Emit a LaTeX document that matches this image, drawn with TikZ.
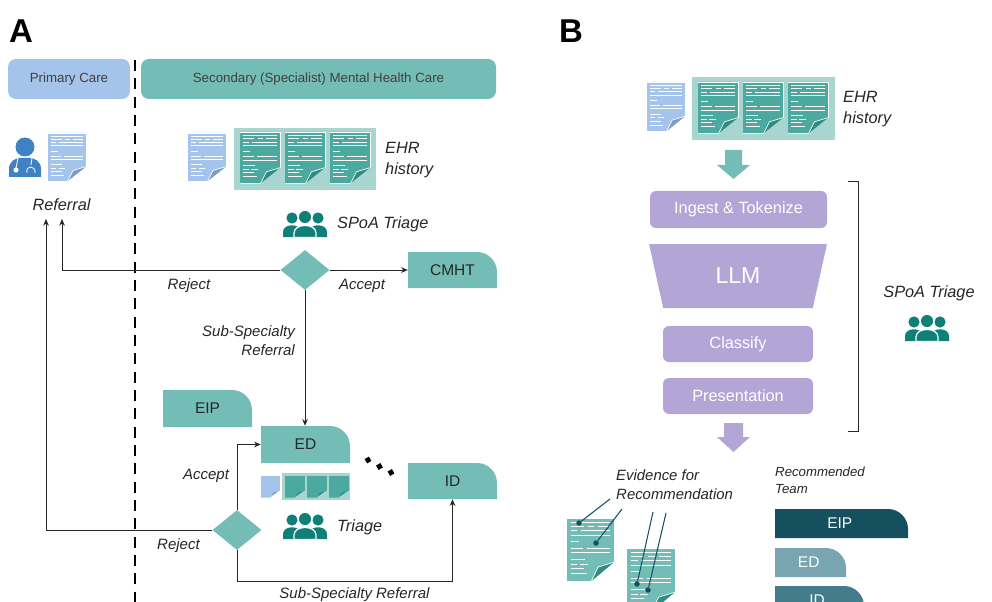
\documentclass[tikz,border=0pt]{standalone}
\usepackage{fontspec}
\setmainfont{Liberation Sans}
\usepackage{xcolor}
\usetikzlibrary{arrows.meta, positioning, shapes.geometric}
\definecolor{tealmain}{HTML}{74BCB6}
\definecolor{tealpale}{HTML}{A9D5D1}
\definecolor{tealdoc}{HTML}{4CA9A0}
\definecolor{tealfold}{HTML}{2F8C80}
\definecolor{tealicon}{HTML}{0E8078}
\definecolor{bluedoc}{HTML}{A4C4EC}
\definecolor{bluefold}{HTML}{7F9CBC}
\definecolor{blueicon}{HTML}{3E82C4}
\definecolor{purplebox}{HTML}{B3A5D6}
\definecolor{teamdark}{HTML}{15505F}
\definecolor{teammid}{HTML}{78A5B0}
\definecolor{teamsea}{HTML}{437C8A}
\def\px{0.3mm}
\newcommand{\pxfont}[1]{\pgfmathsetmacro\fsz{#1*0.8535}\pgfmathsetmacro\fbl{#1*1.02}\fontsize{\fsz}{\fbl}\selectfont}

% page with bent corner, unit square stretched to w x h
\newcommand{\pagedoc}[7]{% left, top, w, h, page, fold, edge
  \begin{scope}[shift={(#1,#2)}, x=#3*\px, y=-#4*\px]
    \fill[#5] (0,0) -- (1,0) -- (1,.70) -- (.52,1) -- (0,1) -- cycle;
    \draw[#7, line width=0.6pt] (0,0) -- (1,0) -- (1,.70) (.52,1) -- (0,1) -- cycle;
    \fill[#6] (1,.70) -- (.66,.78) -- (.52,1) -- cycle;
    \draw[#7, line width=0.6pt] (1,.70) -- (.66,.78) -- (.52,1);
  \end{scope}}
\newcommand{\textdoc}[7]{% same, with text rows
  \pagedoc{#1}{#2}{#3}{#4}{#5}{#6}{#7}
  \begin{scope}[shift={(#1,#2)}, x=#3*\px, y=-#4*\px]
    \foreach \rowy/\rowa/\rowb in {.07/.08/.92, .13/.08/.36, .13/.44/.58, .13/.66/.92, .20/.08/.22,
                          .20/.30/.92, .27/.08/.92, .38/.08/.26, .48/.08/.34, .48/.42/.92,
                          .55/.08/.92, .66/.08/.38, .73/.08/.22, .73/.28/.44, .80/.08/.36,
                          .88/.08/.42}
      \draw[white, line width=0.8pt] (\rowa,\rowy) -- (\rowb,\rowy);
  \end{scope}}
% three people, centred on x,y
\newcommand{\teamicon}[2]{%
  \begin{scope}[shift={(#1,#2)}]
    \fill[tealicon] (-13,-6) circle[radius=5.6] (13,-6) circle[radius=5.6];
    \fill[tealicon] (-22,13) -- (-22,8) .. controls (-22,-1) and (-4,-1) .. (-4,8) -- (-4,13) -- cycle;
    \fill[tealicon] (22,13) -- (22,8) .. controls (22,-1) and (4,-1) .. (4,8) -- (4,13) -- cycle;
    \fill[tealicon, draw=white, line width=1pt] (0,-7) circle[radius=6.8];
    \fill[tealicon, draw=white, line width=1pt] (-11,13.5) -- (-11,9) .. controls (-11,-1) and (11,-1) .. (11,9) -- (11,13.5) -- cycle;
  \end{scope}}
% box with one big round corner
\newcommand{\tabbox}[7]{% name, left, top, w, h, colour, label
  \fill[#6] (#2,#3+#5) -- (#2,#3) -- (#2+#4-20,#3) .. controls (#2+#4-9,#3) and (#2+#4,#3+9) .. (#2+#4,#3+20) -- (#2+#4,#3+#5) -- cycle;
  \node[tabtext, minimum width=#4*\px, minimum height=#5*\px] (#1) at (#2+#4/2,#3+#5/2) {#7};}

\begin{document}
\begin{tikzpicture}[x=\px, y=-\px,
  panel/.style={font=\bfseries\pxfont{33}, inner sep=0pt},
  hdr/.style={rounded corners=8*\px, inner sep=0pt, minimum height=40*\px, font=\pxfont{13.3}, text=black!75},
  lab/.style={font=\itshape\pxfont{15}, inner sep=0pt, text=black!85},
  labbig/.style={font=\itshape\pxfont{16.3}, inner sep=0pt, text=black!85, align=left},
  tabtext/.style={font=\pxfont{15.5}, inner sep=0pt, text=black!85},
  dec/.style={diamond, fill=tealmain, inner sep=0pt, minimum width=49*\px, minimum height=40*\px},
  stagebox/.style={fill=purplebox, rounded corners=6*\px, inner sep=0pt, text=white,
                   minimum height=37*\px, font=\pxfont{16.3}},
  arr/.style={-{Stealth[length=2mm, width=1.7mm]}, black!85, line width=0.85pt},
  evline/.style={teamdark, line width=0.9pt},
  evpin/.style={circle, fill=teamdark, inner sep=0pt, minimum size=5.5*\px},
  gapdot/.style={fill=black, rotate=30, inner sep=0pt, minimum size=5*\px}
]
\useasboundingbox (0,0) rectangle (992,602);
\clip (0,0) rectangle (992,602);
\node[panel] (panelA) at (21,31) {A};
\node[panel] (panelB) at (571,31) {B};

% headers and divide
\node[hdr, fill=bluedoc, minimum width=122*\px] (primary) at (69,79) {\raisebox{-1pt}{Primary Care}};
\node[hdr, fill=tealmain, minimum width=355*\px] (secondary) at (318.5,79) {\raisebox{-1pt}{Secondary (Specialist) Mental Health Care}};
\coordinate (divtop) at (135,60);
\coordinate (divend) at (135,602);
\draw[black, line width=2.2pt, dash pattern=on 3.3mm off 2.2mm] (divtop) -- (divend);

% clinician
\fill[blueicon] (25,147) circle[radius=9.5];
\fill[blueicon] (9,177) -- (9,169) .. controls (9,161) and (16,158) .. (20,158) -- (30,158) .. controls (34,158) and (41,161) .. (41,169) -- (41,177) -- cycle;
\draw[white, line width=0.7pt] (18,158) -- (16,168);
\fill[white] (16,170) circle[radius=2.6];
\draw[white, line width=0.7pt] (32,158) -- (31,165) (27,173) .. controls (25,165) and (36,165) .. (35,173);
\textdoc{48}{133}{38}{48}{bluedoc}{bluefold}{white}
\node[lab, font=\itshape\pxfont{16.3}] (referral) at (61.5,205) {Referral};

% EHR strip, panel A
\textdoc{188}{133}{38}{48}{bluedoc}{bluefold}{white}
\node[fill=tealpale, minimum width=142*\px, minimum height=62*\px, inner sep=0pt] (ehrA) at (305,159) {};
\foreach \x in {240,285,330} {\textdoc{\x}{132}{40}{51}{tealdoc}{tealfold}{white}}
\node[labbig, anchor=west] (ehrlabA) at (385,160) {EHR\\[1.5pt]history};

\teamicon{305}{224}
\node[labbig, anchor=west] (spoa) at (337,224) {SPoA Triage};

% decisions and services
\node[dec] (decA) at (305,270) {};
\tabbox{cmht}{408}{252}{89}{36}{tealmain}{CMHT}
\tabbox{eip}{163}{390}{89}{37}{tealmain}{EIP\hspace{5pt}}
\tabbox{ed}{261}{426}{89}{37}{tealmain}{ED\hspace{3pt}}
\tabbox{id}{408}{463}{89}{36}{tealmain}{ID\hspace{3pt}}
\node[dec] (decB) at (237,530) {};

\pagedoc{261}{476}{18}{21}{bluedoc}{bluefold}{bluedoc}
\node[fill=tealpale, minimum width=68*\px, minimum height=27*\px, inner sep=0pt] (ehrsmall) at (316,486.5) {};
\foreach \x in {285,307,329} {\pagedoc{\x}{476}{19}{21}{tealdoc}{tealfold}{tealdoc}}
\teamicon{305}{526}
\node[labbig, anchor=west] (triage) at (337,527) {Triage};

\node[gapdot] (gap1) at (368,460) {};
\node[gapdot] (gap2) at (379.5,466.5) {};
\node[gapdot] (gap3) at (391,472.5) {};

% connectors
\coordinate (refleft) at (46,219);
\coordinate (refright) at (62,219);
\draw[arr] (decA.west) -| (refright);
\draw[arr] (decA.east) -- (cmht.west);
\draw[arr] (decA.south) -- (ed.north -| decA.south);
\draw[arr] (decB.north) |- (ed.west);
\draw[arr] (decB.west) -| (refleft);
\draw[arr] (decB.south) -- ++(0,31) -| (id.south);

\node[lab] (rejectA) at (189,285.5) {Reject};
\node[lab] (acceptA) at (362,285.5) {Accept};
\node[lab, align=right, anchor=east] (subspec) at (295,340.5) {Sub-Specialty\\[1pt]Referral};
\node[lab] (acceptB) at (206,475.5) {Accept};
\node[lab] (rejectB) at (178.5,545.5) {Reject};
\node[lab] (subB) at (354.5,595) {Sub-Specialty Referral};

% panel B, input
\textdoc{647}{82}{38}{49}{bluedoc}{bluefold}{white}
\node[fill=tealpale, minimum width=143*\px, minimum height=63*\px, inner sep=0pt] (ehrB) at (763.5,108.5) {};
\foreach \x in {698,743,788} {\textdoc{\x}{82}{40}{51}{tealdoc}{tealfold}{white}}
\node[labbig, anchor=west] (ehrlabB) at (843,109) {EHR\\[1.5pt]history};
\fill[tealmain] (725,150) -- (742,150) -- (742,165) -- (750,165) -- (733.5,179) -- (717,165) -- (725,165) -- cycle;

% panel B, pipeline
\node[stagebox, minimum width=177*\px] (ingest) at (738.5,209.5) {\raisebox{-2pt}{Ingest \& Tokenize}};
\node[trapezium, shape border rotate=180, trapezium stretches=true, trapezium angle=75, fill=purplebox, inner sep=0pt,
      minimum width=178*\px, minimum height=64*\px, text=white, font=\pxfont{23}] (llm) at (738,276) {LLM};
\node[stagebox, minimum width=150*\px, minimum height=36*\px] (classify) at (738,344) {\raisebox{-1pt}{Classify}};
\node[stagebox, minimum width=150*\px, minimum height=36*\px] (present) at (738,396) {\raisebox{-2pt}{Presentation}};
\fill[purplebox] (724,423) -- (743,423) -- (743,437) -- (750,437) -- (733.5,452) -- (717,437) -- (724,437) -- cycle;
\coordinate (braceA) at (848,181);
\coordinate (braceB) at (848,431);
\draw[black!85, line width=0.85pt] (braceA) -- (858,181) -- (858,431) -- (braceB);
\node[labbig] (spoaB) at (929,293) {SPoA Triage};
\teamicon{927}{328}

% panel B, output
\node[lab, align=left, anchor=west, font=\itshape\pxfont{14.9}] (evidence) at (616,485) {Evidence for\\[1pt]Recommendation};
\node[lab, align=left, anchor=west, font=\itshape\pxfont{13.2}] (recteam) at (775,480.5) {Recommended\\[1pt]Team};
\textdoc{567}{518}{47}{63}{tealmain}{tealfold}{white}
\textdoc{627}{548}{48}{63}{tealmain}{tealfold}{white}
\foreach \n/\fx/\fy/\tx/\ty in {a/610/499/579/523, b/622/509/596/543, c/653/512/637/584, d/666/513/648/590}{
  \coordinate (ev\n) at (\fx,\fy);
  \node[evpin] (pin\n) at (\tx,\ty) {};
  \draw[evline] (ev\n) -- (pin\n);
}
\tabbox{teamA}{775}{509}{133}{29}{teamdark}{\textcolor{white}{EIP\hspace{3pt}}}
\tabbox{teamB}{775}{548}{71}{29}{teammid}{\textcolor{white}{ED\hspace{3pt}}}
\tabbox{teamC}{775}{586}{89}{29}{teamsea}{\textcolor{white}{ID\hspace{4pt}}}
\end{tikzpicture}
\end{document}
